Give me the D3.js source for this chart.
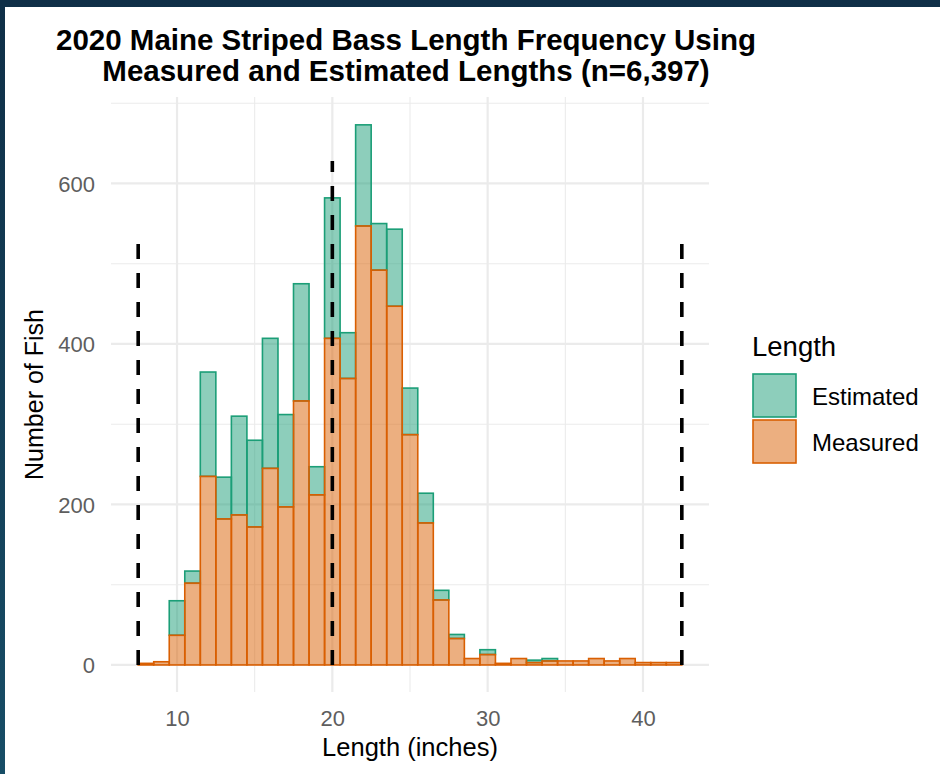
<!DOCTYPE html>
<html>
<head>
<meta charset="utf-8">
<script src="https://cdn.jsdelivr.net/npm/d3@7"></script>
<style>
  html, body { margin: 0; padding: 0; background: #ffffff; }
  svg { display: block; }
  text { font-family: "Liberation Sans", Arial, Helvetica, sans-serif; }
</style>
</head>
<body>
<svg id="chart" width="940" height="774"></svg>
<script>
// ---- Data ----
const lengths   = [8,9,10,11,12,13,14,15,16,17,18,19,20,21,22,23,24,25,26,27,28,29,30,31,32,33,34,35,36,37,38,39,40,41,42];
const measured  = [2,4,37,102,235,182,187,172,245,197,329,212,407,357,547,492,447,287,177,81,33,8,13,2,8,3,5,5,5,8,5,8,3,3,3];
const estimated = [0,0,43,15,130,52,123,108,162,115,146,35,175,57,126,58,96,58,37,12,5,0,6,0,0,3,3,0,0,0,0,0,0,0,0];
const seriesNames = ["Estimated", "Measured"];
const seriesColors = ["#1b9e77", "#d95f02"];
const refLines = [ {x: 7.5, top: 528}, {x: 20, top: 628}, {x: 42.5, top: 527} ];
const xTicks = [10, 20, 30, 40];
const xMinor = [15, 25, 35];
const yTicks = [0, 200, 400, 600];
const yMinor = [100, 300, 500, 700];
const titleLines = ["2020 Maine Striped Bass Length Frequency Using", "Measured and Estimated Lengths (n=6,397)"];

// ---- Layout ----
const svg = d3.select("#chart");
const W = 940, H = 774;
const panel = {left: 111, right: 709, top: 97, bottom: 692};

// frame background
const defs = svg.append("defs");
const grad = defs.append("linearGradient").attr("id", "frameGrad").attr("x1", 0).attr("y1", 0).attr("x2", 0).attr("y2", 1);
grad.append("stop").attr("offset", "0%").attr("stop-color", "#0f2f47");
grad.append("stop").attr("offset", "100%").attr("stop-color", "#174d66");
svg.append("rect").attr("x", 0).attr("y", 0).attr("width", W).attr("height", H).attr("fill", "url(#frameGrad)");
svg.append("rect").attr("x", 5).attr("y", 7).attr("width", W - 5).attr("height", H - 7).attr("fill", "#ffffff");

const x = d3.scaleLinear().domain([5.75, 44.25]).range([panel.left, panel.right]);
const y = d3.scaleLinear().domain([-33.7, 707.7]).range([panel.bottom, panel.top]);

// grid
const grid = svg.append("g");
grid.selectAll(".ymin").data(yMinor).enter().append("line")
  .attr("x1", panel.left).attr("x2", panel.right)
  .attr("y1", d => y(d)).attr("y2", d => y(d))
  .attr("stroke", "#ebebeb").attr("stroke-width", 1.1);
grid.selectAll(".xmin").data(xMinor).enter().append("line")
  .attr("y1", panel.top).attr("y2", panel.bottom)
  .attr("x1", d => x(d)).attr("x2", d => x(d))
  .attr("stroke", "#ebebeb").attr("stroke-width", 1.1);
grid.selectAll(".ymaj").data(yTicks).enter().append("line")
  .attr("x1", panel.left).attr("x2", panel.right)
  .attr("y1", d => y(d)).attr("y2", d => y(d))
  .attr("stroke", "#ebebeb").attr("stroke-width", 2.2);
grid.selectAll(".xmaj").data(xTicks).enter().append("line")
  .attr("y1", panel.top).attr("y2", panel.bottom)
  .attr("x1", d => x(d)).attr("x2", d => x(d))
  .attr("stroke", "#ebebeb").attr("stroke-width", 2.2);

// bars
const rows = lengths.map((L, i) => ({L, m: measured[i], e: estimated[i]}));
const bars = svg.append("g");
// Estimated on top of Measured
bars.selectAll(".est").data(rows.filter(r => r.e > 0)).enter().append("rect")
  .attr("x", d => x(d.L - 0.5)).attr("width", d => x(d.L + 0.5) - x(d.L - 0.5))
  .attr("y", d => y(d.m + d.e)).attr("height", d => y(d.m) - y(d.m + d.e))
  .attr("fill", seriesColors[0]).attr("fill-opacity", 0.5)
  .attr("stroke", seriesColors[0]).attr("stroke-width", 1.6);
bars.selectAll(".mea").data(rows).enter().append("rect")
  .attr("x", d => x(d.L - 0.5)).attr("width", d => x(d.L + 0.5) - x(d.L - 0.5))
  .attr("y", d => y(d.m)).attr("height", d => y(0) - y(d.m))
  .attr("fill", seriesColors[1]).attr("fill-opacity", 0.5)
  .attr("stroke", seriesColors[1]).attr("stroke-width", 1.6);

// dashed reference lines (drawn from bottom up)
svg.append("g").selectAll("line").data(refLines).enter().append("line")
  .attr("x1", d => x(d.x)).attr("x2", d => x(d.x))
  .attr("y1", y(0)).attr("y2", d => y(d.top))
  .attr("stroke", "#000").attr("stroke-width", 3.6)
  .attr("stroke-dasharray", "15,14");

// axes tick labels
const axisColor = "#5e5e5e";
const xAxis = d3.axisBottom(x).tickValues(xTicks).tickSize(0).tickPadding(0);
const gx = svg.append("g").attr("transform", `translate(0, ${panel.bottom})`).call(xAxis);
gx.select(".domain").remove();
gx.selectAll("text").attr("fill", axisColor).attr("font-size", 22)
  .attr("y", 34).attr("dy", 0)
  .style("font-family", "'Liberation Sans', Arial, sans-serif");

const yAxis = d3.axisLeft(y).tickValues(yTicks).tickSize(0).tickPadding(0);
const gy = svg.append("g").attr("transform", `translate(95, 0)`).call(yAxis);
gy.select(".domain").remove();
gy.selectAll("text").attr("fill", axisColor).attr("font-size", 22)
  .attr("x", 0).attr("dy", "0.36em")
  .style("font-family", "'Liberation Sans', Arial, sans-serif");

// axis titles
svg.append("text").attr("x", (panel.left + panel.right) / 2).attr("y", 756)
  .attr("text-anchor", "middle").attr("font-size", 25.5).attr("fill", "#000")
  .text("Length (inches)");
svg.append("text").attr("transform", `translate(43, ${(panel.top + panel.bottom) / 2}) rotate(-90)`)
  .attr("text-anchor", "middle").attr("font-size", 25).attr("fill", "#000")
  .text("Number of Fish");

// title
svg.append("g").selectAll("text").data(titleLines).enter().append("text")
  .attr("x", 406).attr("y", (d, i) => 50 + i * 31)
  .attr("text-anchor", "middle").attr("font-size", 29.5).attr("font-weight", "bold").attr("fill", "#000")
  .text(d => d);

// legend
const lg = svg.append("g");
lg.append("text").attr("x", 752).attr("y", 356).attr("font-size", 27.5).attr("fill", "#000").text("Length");
seriesNames.forEach((name, i) => {
  const ky = 374 + i * 46;
  lg.append("rect").attr("x", 753).attr("y", ky).attr("width", 43).attr("height", 43)
    .attr("fill", seriesColors[i]).attr("fill-opacity", 0.5)
    .attr("stroke", seriesColors[i]).attr("stroke-width", 1.6);
  lg.append("text").attr("x", 812).attr("y", ky + 31).attr("font-size", 24).attr("fill", "#000").text(name);
});
</script>
</body>
</html>
